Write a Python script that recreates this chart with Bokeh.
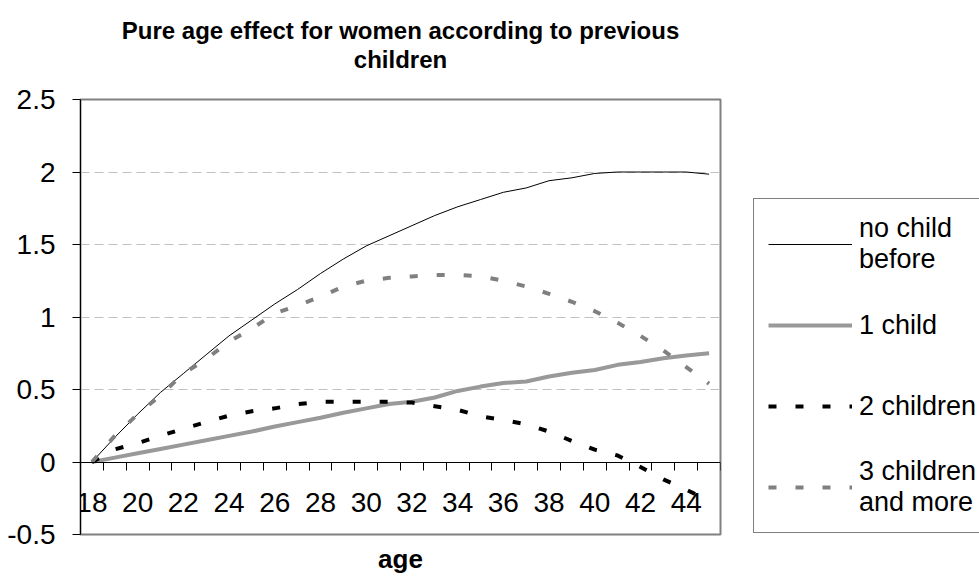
from bokeh.plotting import figure
from bokeh.layouts import row
from bokeh.models import Legend, LegendItem, FixedTicker, Range1d, Title
from bokeh.embed import file_html
from bokeh.resources import INLINE

title_lines = ["Pure age effect for women according to previous", "children"]
x_title = "age"
ages = list(range(18, 46))
no_child = [0.0, 0.17, 0.33, 0.48, 0.61, 0.74, 0.87, 0.98, 1.09, 1.19, 1.30, 1.40, 1.49, 1.56,
            1.63, 1.70, 1.76, 1.81, 1.86, 1.89, 1.94, 1.96, 1.99, 2.00, 2.00, 2.00, 2.00, 1.985]
one_child = [0.0, 0.03, 0.06, 0.09, 0.12, 0.15, 0.18, 0.21, 0.245, 0.275, 0.305, 0.34, 0.37, 0.40,
             0.415, 0.445, 0.49, 0.52, 0.545, 0.555, 0.59, 0.615, 0.635, 0.67, 0.69, 0.715, 0.735, 0.75]
two_children = [0.0, 0.087, 0.13, 0.18, 0.23, 0.275, 0.32, 0.35, 0.37, 0.40, 0.415, 0.415, 0.415, 0.415,
                0.41, 0.385, 0.36, 0.315, 0.29, 0.26, 0.21, 0.145, 0.085, 0.045, -0.035, -0.12, -0.19, -0.27]
three_more = [0.0, 0.18, 0.33, 0.46, 0.61, 0.71, 0.83, 0.92, 1.025, 1.08, 1.14, 1.21, 1.25, 1.27,
              1.28, 1.29, 1.29, 1.28, 1.25, 1.21, 1.16, 1.105, 1.04, 0.96, 0.87, 0.77, 0.655, 0.54]
series = [no_child, one_child, two_children, three_more]
series_labels = ["no child\nbefore", "1 child", "2 children", "3 children\nand more"]
y_ticks = [-0.5, 0, 0.5, 1, 1.5, 2, 2.5]
y_tick_labels = ["-0.5", "0", "0.5", "1", "1.5", "2", "2.5"]
x_ticks = list(range(18, 46, 2))

FONT = "Liberation Sans"
styles = [dict(line_color="black", line_width=1),
          dict(line_color="#999999", line_width=4),
          dict(line_color="black", line_width=4, line_dash="8 19"),
          dict(line_color="#808080", line_width=4, line_dash="8 19")]

p = figure(width=740, height=581, x_range=Range1d(17.5, 45.5), y_range=Range1d(-0.5, 2.5),
           output_backend="svg", toolbar_location=None, title=None,
           min_border_left=80, min_border_right=20, min_border_top=99, min_border_bottom=46)
p.background_fill_color = "white"
p.border_fill_color = "white"
p.outline_line_color = "#808080"
p.outline_line_width = 2

# title: spacer (innermost), then the two centred lines
p.add_layout(Title(text=" ", align="center", text_font=FONT, text_font_size="1px", standoff=24), "above")
p.add_layout(Title(text=title_lines[1], align="center", text_font=FONT, text_font_size="24px",
                   text_font_style="bold", text_color="black", standoff=0), "above")
p.add_layout(Title(text=title_lines[0], align="center", text_font=FONT, text_font_size="24px",
                   text_font_style="bold", text_color="black", standoff=0), "above")
p.add_layout(Title(text=x_title, align="center", text_font=FONT, text_font_size="26px",
                   text_font_style="bold", text_color="black", standoff=15), "below")

xa = p.xaxis[0]
xa.fixed_location = 0
xa.ticker = FixedTicker(ticks=x_ticks, minor_ticks=[a + 0.5 for a in ages])
xa.axis_line_color = "black"
xa.major_tick_out = 0
xa.major_tick_in = 0
xa.minor_tick_out = 8
xa.minor_tick_in = 0
xa.minor_tick_line_color = "black"
xa.major_label_text_font = FONT
xa.major_label_text_font_size = "28px"
xa.major_label_text_color = "black"
xa.major_label_standoff = 23

ya = p.yaxis[0]
ya.ticker = FixedTicker(ticks=y_ticks)
ya.major_label_overrides = dict(zip(y_ticks, y_tick_labels))
ya.axis_line_color = "black"
ya.major_tick_out = 8
ya.major_tick_in = 0
ya.major_tick_line_color = "black"
ya.minor_tick_line_color = None
ya.major_label_text_font = FONT
ya.major_label_text_font_size = "28px"
ya.major_label_text_color = "black"
ya.major_label_standoff = 17

p.xgrid.visible = False
p.ygrid.grid_line_color = "#c0c0c0"
p.ygrid.grid_line_dash = "9 5"

for vals, st in zip(series, styles):
    p.line(ages, vals, **st)

# legend panel (separate canvas to the right of the plot)
q = figure(width=239, height=581, x_range=Range1d(0, 1), y_range=Range1d(0, 1),
           output_backend="svg", toolbar_location=None,
           x_axis_location=None, y_axis_location=None,
           min_border=0, min_border_left=0, min_border_right=0, min_border_top=0, min_border_bottom=0)
q.grid.visible = False
q.outline_line_color = None
q.background_fill_color = "white"
q.border_fill_color = "white"
# one-point key renderers (a single point draws no line; they only feed the legend keys)
keys = [q.line(ages[:1], vals[:1], **st) for vals, st in zip(series, styles)]

legend = Legend(items=[LegendItem(label=lab, renderers=[r]) for lab, r in zip(series_labels, keys)],
                location=(13, 1), orientation="vertical",
                padding=14, spacing=19, margin=0,
                glyph_width=84, glyph_height=20, label_height=62, label_width=150,
                label_standoff=7,
                label_text_font=FONT, label_text_font_size="27px", label_text_color="black",
                border_line_color="black", border_line_width=1,
                background_fill_color="white", background_fill_alpha=1.0)
q.add_layout(legend, "center")

open("out.html", "w").write(file_html(row(p, q, spacing=0), INLINE))
